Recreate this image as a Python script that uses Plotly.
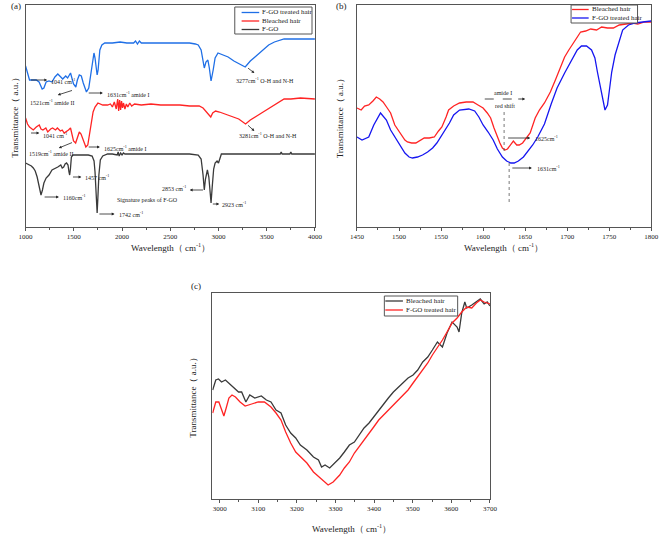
import plotly.graph_objects as go

SERIF = "Liberation Serif, Times New Roman, serif"
W, H = 669, 535

# ---------------- Panel (a): wavenumber (cm-1), transmittance (a.u.) ----------------
a_fgo_treated = [(1000,161),(1020,155),(1041,147),(1080,147),(1110,147),(1140,145),(1172,138),(1190,139),
    (1213,145),(1243,146),(1274,145),(1304,150),(1334,153),(1365,150),(1385,148),(1416,151),(1436,149),
    (1466,154),(1497,143),(1521,140),(1537,147),(1557,152),(1578,151),(1598,144),(1618,137),(1631,135),
    (1655,139),(1679,157),(1699,172),(1709,174),(1720,169),(1730,159),(1742,152),(1752,157),(1770,177),
    (1791,182),(1821,184),(1900,184),(1980,185),(2050,184),(2120,184),(2140,186),(2160,183),(2180,186),
    (2200,184),(2300,184),(2450,184),(2600,184),(2700,184),(2760,183),(2790,182),(2820,177),(2840,167),
    (2853,159),(2870,165),(2890,167),(2905,159),(2923,146),(2945,157),(2965,169),(2995,174),(3020,173),
    (3060,172),(3100,170),(3160,166),(3220,163),(3277,160),(3330,166),(3400,172),(3460,177),(3520,182),
    (3580,185),(3640,187),(3680,188),(3750,188),(3850,188),(4000,188)]
a_bleached = [(1000,109),(1020,103),(1041,100),(1060,98),(1080,97),(1111,100),(1142,102),(1160,98),
    (1180,97),(1210,99),(1230,95),(1260,98),(1280,99),(1310,97),(1330,99),(1360,96),(1380,97),(1400,94),
    (1420,95),(1445,97),(1466,99),(1480,93),(1497,86),(1519,84),(1540,90),(1557,95),(1575,93),(1590,89),
    (1610,82),(1625,80),(1645,82),(1660,92),(1680,104),(1700,115),(1720,120),(1750,124),(1800,122),
    (1850,122),(1880,123),(1900,120),(1920,125),(1940,118),(1955,128),(1965,116),(1975,127),(1985,117),
    (1995,126),(2005,119),(2015,124),(2030,118),(2045,123),(2060,120),(2080,124),(2100,121),(2130,123),
    (2200,122),(2300,123),(2400,122),(2500,122),(2600,122),(2700,121),(2800,121),(2840,119),(2870,116),
    (2900,113),(2920,110),(2940,114),(2970,116),(3010,115),(3070,113),(3140,111),(3210,108),(3281,103),
    (3330,107),(3430,113),(3530,119),(3630,125),(3680,128),(3750,128),(3850,129),(4000,128)]
a_fgo = [(1000,64),(1020,63),(1041,62),(1060,61),(1080,59),(1100,56),(1120,50),(1140,42),(1160,32),
    (1175,37),(1190,44),(1213,49),(1243,52),(1274,57),(1300,58),(1334,60),(1365,62),(1380,59),(1395,60),
    (1410,63),(1425,64),(1440,62),(1450,55),(1457,52),(1465,58),(1475,70),(1490,72),(1550,72),(1600,72),
    (1650,72),(1690,71),(1710,66),(1720,55),(1730,35),(1742,14),(1750,30),(1760,52),(1775,67),(1800,71),
    (1850,73),(1900,73),(1950,72),(1960,75),(1970,71),(1985,74),(2000,72),(2015,74),(2030,73),(2100,73),
    (2300,73),(2500,73),(2700,73),(2790,72),(2820,68),(2840,52),(2853,37),(2865,48),(2885,57),(2900,50),
    (2912,38),(2923,24),(2935,40),(2950,58),(2965,64),(2985,66),(3000,64),(3015,68),(3030,73),(3100,73),
    (3300,73),(3500,73),(3640,73),(3650,75),(3660,73),(3740,73),(3750,75),(3760,73),(4000,73)]

# ---------------- Panel (b) ----------------
b_bleached = [(1450,119),(1455,117),(1459,121),(1464,122),(1469,126),(1473,130),(1477,128),(1481,125),
    (1486,119),(1490,114),(1495,102),(1499,97),(1502,92),(1507,87),(1510,85),(1515,84),(1520,84),(1524,86),
    (1530,89),(1536,89),(1542,90),(1547,96),(1551,100),(1556,110),(1559,117),(1565,121),(1572,124),
    (1580,125),(1588,125),(1594,122),(1600,119),(1605,114),(1609,109),(1613,99),(1616,92),(1620,84),
    (1623,79),(1626,77),(1629,78),(1633,83),(1636,86),(1640,82),(1643,82),(1647,84),(1651,88),(1656,94),
    (1662,109),(1667,117),(1673,124),(1680,135),(1686,147),(1691,157),(1697,170),(1702,177),(1708,185),
    (1713,191),(1716,195),(1722,196),(1728,198),(1735,197),(1741,200),(1748,199),(1755,199),(1762,202),
    (1770,203),(1778,204),(1784,203),(1792,205),(1800,205)]
b_fgo_treated = [(1450,90),(1456,87),(1464,90),(1470,102),(1478,114),(1485,107),(1490,97),(1495,90),
    (1501,81),(1507,74),(1512,70),(1516,69),(1522,70),(1528,72),(1534,75),(1540,79),(1545,84),(1553,94),
    (1560,104),(1565,112),(1572,117),(1583,118),(1590,116),(1595,110),(1600,102),(1606,95),(1612,87),
    (1617,78),(1623,70),(1628,66),(1633,64),(1637,64),(1642,66),(1648,70),(1653,75),(1659,82),(1665,90),
    (1673,103),(1681,123),(1688,139),(1697,154),(1705,167),(1712,177),(1717,181),(1723,181),(1729,177),
    (1733,169),(1736,155),(1740,137),(1743,122),(1745,117),(1748,122),(1750,137),(1753,155),(1757,172),
    (1762,187),(1766,197),(1773,202),(1781,204),(1790,205),(1800,206)]

# ---------------- Panel (c) ----------------
c_bleached = [(2982,109),(2990,119),(2997,120),(3005,117),(3015,119),(3024,116),(3036,111),(3049,107),
    (3057,107),(3068,97),(3078,104),(3091,101),(3108,103),(3121,99),(3133,97),(3146,89),(3159,86),
    (3171,74),(3184,66),(3197,61),(3209,54),(3226,49),(3243,42),(3256,39),(3264,32),(3273,34),(3285,31),
    (3298,36),(3311,41),(3323,47),(3336,54),(3349,57),(3361,64),(3374,71),(3387,76),(3399,82),(3412,89),
    (3425,96),(3437,101),(3450,107),(3463,112),(3475,116),(3488,121),(3501,124),(3513,129),(3526,137),
    (3539,142),(3551,149),(3564,157),(3577,152),(3589,166),(3602,177),(3615,172),(3620,167),(3627,186),
    (3635,197),(3640,191),(3653,194),(3665,197),(3675,200),(3685,195),(3693,197),(3700,193)]
c_fgo_treated = [(2982,86),(2990,97),(2998,97),(3005,89),(3011,83),(3017,91),(3024,101),(3032,104),
    (3041,102),(3053,97),(3066,93),(3083,95),(3100,97),(3116,97),(3133,92),(3146,86),(3159,79),(3171,67),
    (3184,56),(3197,47),(3209,42),(3226,36),(3243,27),(3260,21),(3273,16),(3281,14),(3294,17),(3311,24),
    (3323,31),(3336,37),(3349,46),(3361,52),(3374,59),(3387,66),(3399,72),(3412,79),(3425,84),(3437,89),
    (3450,94),(3463,99),(3475,104),(3488,109),(3501,116),(3513,122),(3526,129),(3539,136),(3551,144),
    (3564,151),(3577,159),(3589,167),(3602,176),(3615,181),(3627,187),(3640,192),(3653,191),(3665,196),
    (3675,199),(3685,197),(3693,196),(3700,195)]

BLUE_A, BLUE_B = "#1f6fe6", "#1616f0"
RED, DARK = "#ff2424", "#3a3a3a"

def xs(p): return [v[0] for v in p]
def ys(p): return [v[1] for v in p]

fig = go.Figure()
traces = [
    (a_fgo_treated, BLUE_A, "F-GO treated hair", "x", "y"),
    (a_bleached, RED, "Bleached hair", "x", "y"),
    (a_fgo, DARK, "F-GO", "x", "y"),
    (b_bleached, RED, "Bleached hair", "x2", "y2"),
    (b_fgo_treated, BLUE_B, "F-GO treated hair", "x2", "y2"),
    (c_bleached, DARK, "Bleached hair", "x3", "y3"),
    (c_fgo_treated, RED, "F-GO treated hair", "x3", "y3"),
]
for data, col, name, xa, ya in traces:
    fig.add_trace(go.Scatter(x=xs(data), y=ys(data), mode="lines", name=name, showlegend=False,
                             line=dict(color=col, width=1.3), xaxis=xa, yaxis=ya))

def px_x(px): return px / W
def px_y(py): return 1 - py / H

AX = "#555555"
def xaxis(dom, rng, dtick, minor, tick0, anchor):
    return dict(domain=dom, range=rng, anchor=anchor, showline=True, mirror=True, linecolor=AX,
                linewidth=1, ticks="outside", ticklen=3, tickwidth=1, tickcolor=AX, dtick=dtick,
                tick0=tick0, minor=dict(ticks="outside", ticklen=2, dtick=minor, tickcolor=AX),
                showgrid=False, zeroline=False,
                tickfont=dict(family=SERIF, size=7, color="#222"))
def yaxis(dom, rng, anchor):
    return dict(domain=dom, range=rng, anchor=anchor, showline=True, mirror=True, linecolor=AX,
                linewidth=1, showticklabels=False, ticks="", showgrid=False, zeroline=False)

ya_dom = [px_y(227), px_y(5)]
fig.update_layout(
    width=W, height=H, margin=dict(l=0, r=0, t=0, b=0), showlegend=False,
    paper_bgcolor="white", plot_bgcolor="white",
    xaxis=xaxis([px_x(19), px_x(315)], [1000, 4000], 500, 250, 1000, "y"),
    yaxis=yaxis(ya_dom, [0, 222], "x"),
    xaxis2=xaxis([px_x(358), px_x(659)], [1450, 1800], 50, 25, 1450, "x2".replace("x", "y")),
    yaxis2=yaxis(ya_dom, [0, 222], "x2"),
    xaxis3=xaxis([px_x(210), px_x(494)], [2981, 3700], 100, 50, 3000, "y3"),
    yaxis3=yaxis([px_y(499), px_y(293)], [0, 206], "x3"),
)

ann = []
shapes = []

def text(x, y, t, xref, yref, size=6, xanchor="left", **kw):
    ann.append(dict(x=x, y=y, xref=xref, yref=yref, text=t, showarrow=False, xanchor=xanchor,
                    yanchor="middle", font=dict(family=SERIF, size=size, color="#222"), **kw))
def arrow(x0, y0, x1, y1, xr, yr):
    ann.append(dict(x=x1, y=y1, ax=x0, ay=y0, xref=xr, yref=yr, axref=xr, ayref=yr, text="",
                    showarrow=True, arrowhead=2, arrowsize=0.7, arrowwidth=0.8, arrowcolor="#222"))

# panel (a) annotations
arrow(1041, 147, 1223, 147, "x", "y"); text(1243, 146, "1041 cm<sup>-1</sup>", "x", "y")
arrow(1497, 137, 1334, 132, "x", "y"); text(1030, 125, "1521cm<sup>-1</sup> amide II", "x", "y")
arrow(1639, 134, 1801, 134, "x", "y"); text(1821, 133, "1631cm<sup>-1</sup> amide I", "x", "y")
arrow(3291, 160, 3372, 154, "x", "y"); text(3159, 147, "3277cm<sup>-1</sup> O-H and N-H", "x", "y")
arrow(1041, 94, 1142, 94, "x", "y"); text(1162, 92, "1041 cm<sup>-1</sup>", "x", "y")
arrow(1497, 85, 1345, 79, "x", "y"); text(1010, 74, "1519cm<sup>-1</sup> amide II", "x", "y")
arrow(1639, 80, 1770, 80, "x", "y"); text(1790, 79, "1625cm<sup>-1</sup> amide I", "x", "y")
arrow(3291, 103, 3372, 96, "x", "y"); text(3189, 92, "3281cm<sup>-1</sup> O-H and N-H", "x", "y")
arrow(1476, 50, 1578, 50, "x", "y"); text(1598, 50, "1457 cm<sup>-1</sup>", "x", "y")
arrow(1182, 30, 1345, 30, "x", "y"); text(1365, 30, "1160cm<sup>-1</sup>", "x", "y")
text(1922, 27, "Signature peaks of F-GO", "x", "y")
arrow(2855, 37, 2703, 37, "x", "y"); text(2682, 39, "2853 cm<sup>-1</sup>", "x", "y", xanchor="right")
arrow(2926, 23, 3007, 23, "x", "y"); text(3017, 23, "2923 cm<sup>-1</sup>", "x", "y")
arrow(1750, 13, 1922, 13, "x", "y"); text(1943, 13, "1742 cm<sup>-1</sup>", "x", "y")

# panel (b) annotations
text(1624, 134, "amide I", "x2", "y2", xanchor="center")
text(1626, 121, "red shift", "x2", "y2", xanchor="center")
arrow(1640, 128, 1650, 128, "x2", "y2")
text(1659, 89, "1625cm<sup>-1</sup>", "x2", "y2")
arrow(1628, 89, 1656, 89, "x2", "y2")
text(1662, 59, "1631cm<sup>-1</sup>", "x2", "y2")
arrow(1633, 59, 1658, 59, "x2", "y2")

shapes += [
    dict(type="line", xref="x2", yref="y2", x0=1602, x1=1645, y0=128, y1=128,
         line=dict(color="#222", width=0.8, dash="dash")),
    dict(type="line", xref="x2", yref="y2", x0=1625, x1=1625, y0=115, y1=75,
         line=dict(color="#555", width=0.8, dash="dot")),
    dict(type="line", xref="x2", yref="y2", x0=1631, x1=1631, y0=64, y1=24,
         line=dict(color="#555", width=0.8, dash="dot")),
]

# axis titles and panel labels
def ptext(px, py, t, size=9, angle=0, xanchor="center"):
    ann.append(dict(x=px_x(px), y=px_y(py), xref="paper", yref="paper", text=t, showarrow=False,
                    xanchor=xanchor, yanchor="middle", textangle=angle,
                    font=dict(family=SERIF, size=size, color="#222")))
XT = "Wavelength（ cm<sup>-1</sup>）"
YT = "Transmittance（ a.u.）"
ptext(167, 247, XT); ptext(508, 247, XT); ptext(352, 528, XT)
ptext(8, 116, YT, angle=-90); ptext(341, 116, YT, angle=-90); ptext(190, 396, YT, angle=-90)
ptext(2, 6, "(a)", xanchor="left"); ptext(335, 6, "(b)", xanchor="left"); ptext(186, 286, "(c)", xanchor="left")

# legends (boxes with line samples and labels)
legend_a = [("F-GO treated hair", BLUE_A), ("Bleached hair", RED), ("F-GO", DARK)]
legend_b = [("Bleached hair", RED), ("F-GO treated hair", BLUE_B)]
legend_c = [("Bleached hair", DARK), ("F-GO treated hair", RED)]

def legend(entries, box, y0, step, lx0, lx1):
    x0, yt, x1, yb = box
    shapes.append(dict(type="rect", xref="paper", yref="paper", x0=px_x(x0), x1=px_x(x1),
                       y0=px_y(yb), y1=px_y(yt), line=dict(color="#555", width=1), fillcolor="white",
                       layer="above"))
    for i, (name, col) in enumerate(entries):
        py = y0 + i * step
        shapes.append(dict(type="line", xref="paper", yref="paper", x0=px_x(lx0), x1=px_x(lx1),
                           y0=px_y(py), y1=px_y(py), line=dict(color=col, width=1.3), layer="above"))
        ptext(lx1 + 1, py, name, size=7, xanchor="left")

legend(legend_a, (233, 7, 312, 34), 12.5, 8.5, 240, 258)
legend(legend_b, (577, 5, 645, 23), 9.5, 8.5, 578, 595)
legend(legend_c, (386, 296, 461, 316), 301, 9, 387, 405)

fig.update_layout(annotations=ann, shapes=shapes)
fig.write_html("out.html")
